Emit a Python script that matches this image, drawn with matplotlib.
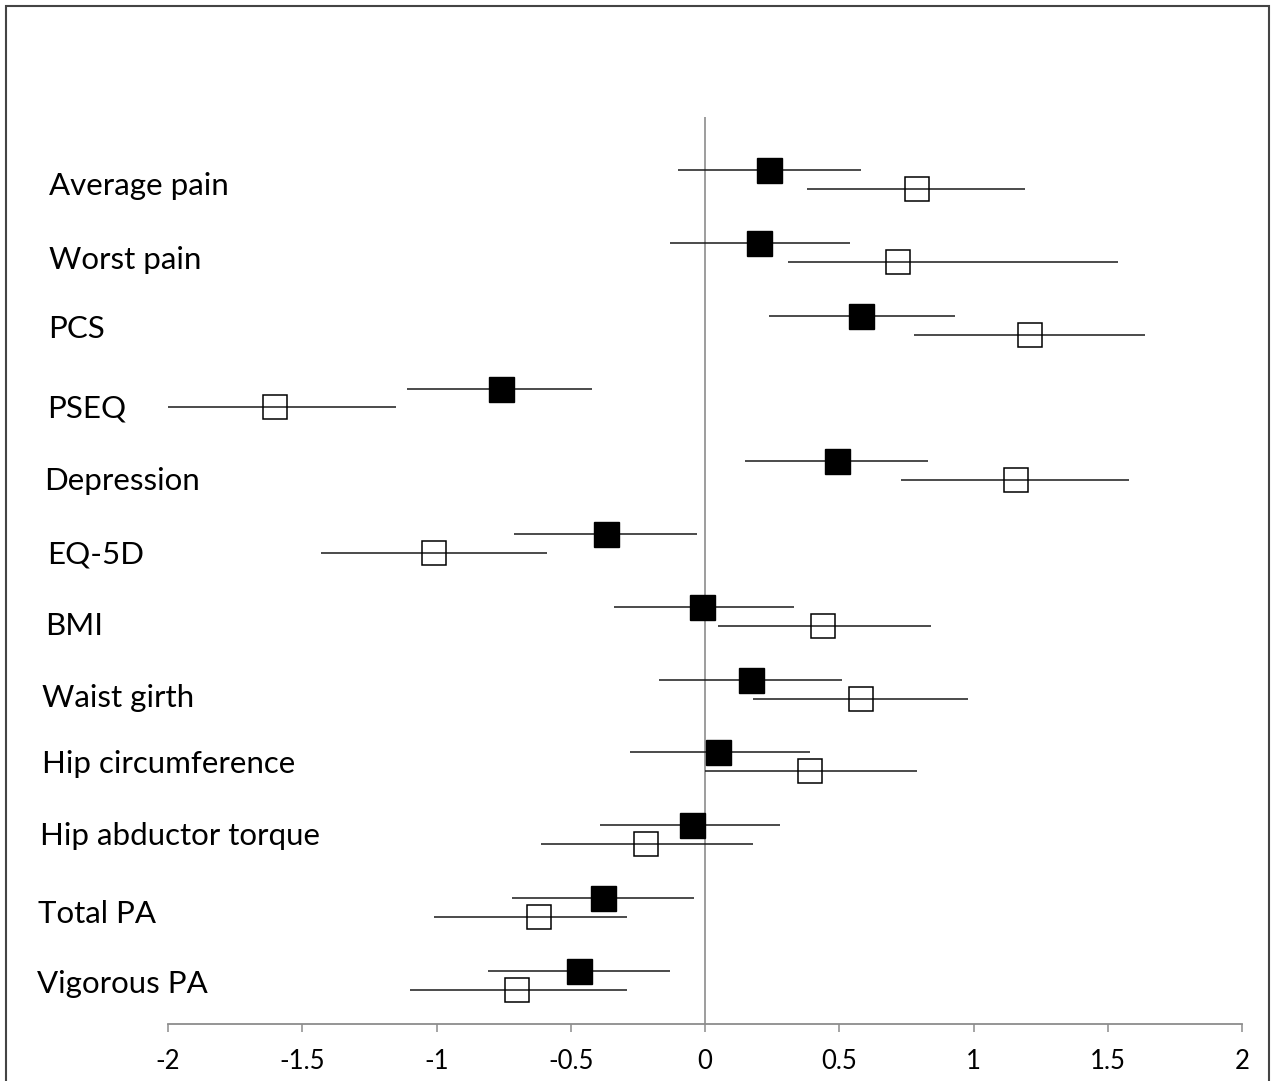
import numpy as np
import matplotlib.pyplot as plt
from matplotlib.patches import Rectangle

plt.rcParams["font.family"] = ["Lato", "DejaVu Sans"]

# outcomes, top to bottom
labels = ["Average pain", "Worst pain", "PCS", "PSEQ", "Depression", "EQ-5D",
          "BMI", "Waist girth", "Hip circumference", "Hip abductor torque",
          "Total PA", "Vigorous PA"]

# filled squares (estimate, lower, upper)
est_a = [0.24, 0.20, 0.58, -0.76, 0.49, -0.37, -0.01, 0.17, 0.05, -0.05, -0.38, -0.47]
lo_a = [-0.10, -0.13, 0.24, -1.11, 0.15, -0.71, -0.34, -0.17, -0.28, -0.39, -0.72, -0.81]
hi_a = [0.58, 0.54, 0.93, -0.42, 0.83, -0.03, 0.33, 0.51, 0.39, 0.28, -0.04, -0.13]

# open squares (estimate, lower, upper)
est_b = [0.79, 0.72, 1.21, -1.60, 1.16, -1.01, 0.44, 0.58, 0.39, -0.22, -0.62, -0.70]
lo_b = [0.38, 0.31, 0.78, -2.00, 0.73, -1.43, 0.05, 0.18, 0.00, -0.61, -1.01, -1.10]
hi_b = [1.19, 1.54, 1.64, -1.15, 1.58, -0.59, 0.84, 0.98, 0.79, 0.18, -0.29, -0.29]

xticks = [-2, -1.5, -1, -0.5, 0, 0.5, 1, 1.5, 2]
xticklabels = ["-2", "-1.5", "-1", "-0.5", "0", "0.5", "1", "1.5", "2"]

W, H = 1272, 1081
fig = plt.figure(figsize=(W / 100, H / 100), dpi=100)
ax = fig.add_axes([168 / W, 1 - 1024 / H, (1242 - 168) / W, (1024 - 117) / H])

n = len(labels)
pos = np.arange(n)[::-1]  # top category gets highest position
y_a = pos + 0.73
y_b = pos + 0.47

ax.axvline(0, color="#8c8c8c", lw=1.2, zorder=1)

ax.hlines(y_a, lo_a, hi_a, color="#1a1a1a", lw=1.1, zorder=2)
ax.hlines(y_b, lo_b, hi_b, color="#1a1a1a", lw=1.1, zorder=2)
ax.plot(est_a, y_a, ls="none", marker="s", ms=18, mfc="black", mec="black", zorder=3)
ax.plot(est_b, y_b, ls="none", marker="s", ms=17, mfc="none", mec="black", mew=1.1, zorder=3)

ax.set_xlim(-2, 2)
ax.set_ylim(0, 12.46)
ax.set_xticks(xticks)
ax.set_xticklabels(xticklabels, fontsize=18.5)
ax.set_yticks([])
for s in ["top", "right", "left"]:
    ax.spines[s].set_visible(False)
ax.spines["bottom"].set_color("#8c8c8c")
ax.spines["bottom"].set_linewidth(1.3)
ax.tick_params(axis="x", direction="out", length=6, width=1.1, color="#8c8c8c", pad=12)

# category labels sit in the left margin
lab_x = [49, 49, 48, 47, 44, 47, 45, 42, 42, 40, 38, 37]
lab_base = [195, 269, 338, 418, 490, 564, 635, 707, 773, 845, 923, 993]
for t, lx, ly in zip(labels, lab_x, lab_base):
    fig.text(lx / W, 1 - ly / H, t, fontsize=22.5, ha="left", va="baseline")

# outer frame
fig.patches.append(Rectangle((6 / W, -0.01), (1269 - 6) / W, 1 - 6 / H + 0.01,
                             transform=fig.transFigure, fill=False,
                             ec="#444444", lw=1.5))

fig.savefig("out.png", dpi=100)
